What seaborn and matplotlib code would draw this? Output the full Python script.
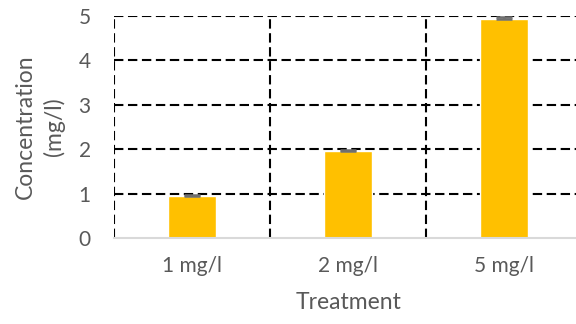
import matplotlib
matplotlib.use("Agg")
import matplotlib.pyplot as plt
import seaborn as sns
import pandas as pd

treatments = ["1 mg/l", "2 mg/l", "5 mg/l"]
concentration = [0.95, 1.97, 4.94]
error = [0.02, 0.02, 0.03]

df = pd.DataFrame({"Treatment": treatments, "Concentration": concentration})

sns.set_style("white")
plt.rcParams["font.family"] = ["Lato", "DejaVu Sans"]

fig = plt.figure(figsize=(5.76, 3.24), dpi=100)
ax = fig.add_axes([0.1984, 0.2645, 0.812, 0.686])

sns.barplot(
    data=df,
    x="Treatment",
    y="Concentration",
    color="#FFC000",
    width=0.31,
    saturation=1,
    ax=ax,
    zorder=3
)

# tiny error bars, only the upper cap shows
ax.errorbar(
    range(len(treatments)),
    concentration,
    yerr=[[0] * len(error), error],
    fmt="none",
    ecolor="#6f6f6f",
    elinewidth=1.8,
    capsize=6,
    capthick=1.8,
    zorder=4
)

ax.set_xlim(-0.5, 2.5)
ax.set_ylim(0, 5)
ax.set_yticks([0, 1, 2, 3, 4, 5])

dash = (0, (4.5, 2.2))
for y in [1, 2, 3, 4, 5]:
    ax.axhline(y, color="black", lw=1.5, ls=dash, zorder=1)
for x in [-0.5, 0.5, 1.5, 2.5]:
    ax.axvline(x, color="black", lw=1.5, ls=dash, zorder=1)

for s in ["top", "right", "left"]:
    ax.spines[s].set_visible(False)
ax.spines["bottom"].set_color("#d9d9d9")
ax.spines["bottom"].set_linewidth(1.5)
ax.spines["bottom"].set_zorder(5)

ax.tick_params(axis="y", length=0, pad=17, labelsize=15, labelcolor="#595959")
ax.tick_params(axis="x", length=0, pad=13, labelsize=15, labelcolor="#595959")

ax.set_xlabel("Treatment", fontsize=16.5, color="#595959", labelpad=11)
ax.set_ylabel("Concentration\n(mg/l)", fontsize=16.5, color="#595959",
              labelpad=10, linespacing=1.35)

plt.savefig("out.png", dpi=100)
